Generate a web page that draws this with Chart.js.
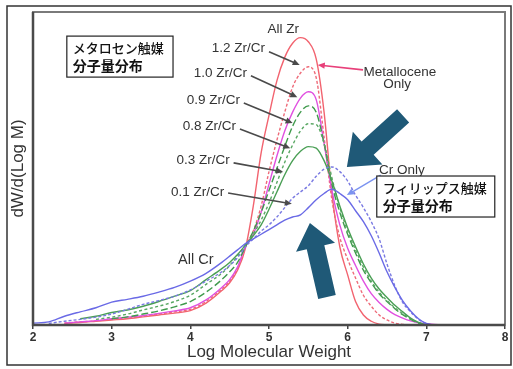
<!DOCTYPE html>
<html>
<head>
<meta charset="utf-8">
<script src="https://cdn.jsdelivr.net/npm/chart.js@4.4.1/dist/chart.umd.min.js"></script>
<style>
  html, body { margin: 0; padding: 0; background: #fff; }
</style>
</head>
<body>
<canvas id="chart" width="513" height="369"></canvas>
<script>
// shared x grid (log molecular weight)
const logM = [2.0, 2.2, 2.4, 2.6, 2.8, 3.0, 3.2, 3.4, 3.6, 3.8, 4.0, 4.2, 4.4, 4.5, 4.6, 4.7, 4.8, 4.9, 5.0, 5.1,
  5.2, 5.3, 5.4, 5.5, 5.6, 5.7, 5.8, 5.9, 6.0, 6.1, 6.2, 6.3, 6.4, 6.5, 6.6, 6.7, 6.8, 6.9, 7.0, 7.1, 7.2];

// dW/d(Log M) (relative units, no y ticks in original)
const allZr = [null, null, 0.005, 0.008, 0.012, 0.016, 0.02, 0.026, 0.032, 0.038, 0.046, 0.07, 0.11, 0.135, 0.175, 0.245, 0.38, 0.55, 0.67, 0.78,
  0.855, 0.9, 0.918, 0.905, 0.85, 0.68, 0.42, 0.25, 0.16, 0.075, 0.032, 0.012, 0.003, 0, null, null, null, null, null, null, null];
const zr12 = [null, null, 0.006, 0.01, 0.013, 0.018, 0.022, 0.028, 0.035, 0.042, 0.05, 0.075, 0.115, 0.14, 0.18, 0.25, 0.3, 0.38, 0.49, 0.59,
  0.68, 0.76, 0.805, 0.825, 0.79, 0.6, 0.4, 0.28, 0.21, 0.15, 0.095, 0.06, 0.032, 0.016, 0.006, 0.002, 0, null, null, null, null];
const zr10 = [null, null, 0.006, 0.01, 0.014, 0.02, 0.025, 0.03, 0.037, 0.045, 0.055, 0.08, 0.12, 0.145, 0.185, 0.25, 0.29, 0.36, 0.45, 0.54,
  0.62, 0.68, 0.725, 0.745, 0.72, 0.58, 0.43, 0.32, 0.245, 0.19, 0.14, 0.1, 0.072, 0.05, 0.033, 0.022, 0.013, 0.007, 0.004, 0.002, 0];
const zr09 = [null, null, null, null, null, 0.02, 0.026, 0.035, 0.045, 0.058, 0.075, 0.105, 0.145, 0.17, 0.2, 0.25, 0.3, 0.36, 0.43, 0.5,
  0.57, 0.635, 0.68, 0.7, 0.68, 0.58, 0.45, 0.36, 0.29, 0.23, 0.175, 0.135, 0.1, 0.075, 0.052, 0.033, 0.018, 0.006, 0, null, null];
const zr08 = [null, null, null, null, 0.018, 0.025, 0.035, 0.048, 0.06, 0.075, 0.095, 0.13, 0.165, 0.19, 0.22, 0.255, 0.29, 0.335, 0.39, 0.455,
  0.52, 0.575, 0.62, 0.643, 0.64, 0.58, 0.47, 0.375, 0.3, 0.24, 0.185, 0.14, 0.105, 0.078, 0.055, 0.036, 0.02, 0.008, 0, null, null];
const zr03 = [null, null, null, 0.02, 0.028, 0.04, 0.048, 0.06, 0.075, 0.092, 0.11, 0.145, 0.18, 0.2, 0.225, 0.255, 0.285, 0.32, 0.37, 0.425,
  0.48, 0.525, 0.555, 0.57, 0.565, 0.525, 0.46, 0.38, 0.31, 0.25, 0.195, 0.15, 0.115, 0.088, 0.063, 0.042, 0.022, 0.008, 0, null, null];
const zr01 = [null, 0.005, 0.012, 0.018, 0.025, 0.035, 0.05, 0.066, 0.078, 0.092, 0.112, 0.14, 0.17, 0.19, 0.215, 0.25, 0.275, 0.3, 0.32, 0.345,
  0.375, 0.405, 0.425, 0.445, 0.475, 0.498, 0.505, 0.49, 0.46, 0.415, 0.375, 0.33, 0.275, 0.195, 0.125, 0.072, 0.042, 0.018, 0.004, 0, null];
const allCr = [0.006, 0.01, 0.028, 0.042, 0.055, 0.073, 0.082, 0.092, 0.105, 0.12, 0.14, 0.165, 0.2, 0.22, 0.24, 0.26, 0.275, 0.29, 0.305, 0.32,
  0.335, 0.345, 0.352, 0.375, 0.4, 0.42, 0.434, 0.42, 0.4, 0.365, 0.33, 0.285, 0.23, 0.17, 0.12, 0.077, 0.045, 0.02, 0.005, 0, null];

const xTicks = [2, 3, 4, 5, 6, 7, 8];
const ratioLabels = ['1.2 Zr/Cr', '1.0 Zr/Cr', '0.9 Zr/Cr', '0.8 Zr/Cr', '0.3 Zr/Cr', '0.1 Zr/Cr'];

const LATIN = "'Liberation Sans', Arial, sans-serif";
const CJK = "'Noto Sans CJK JP', sans-serif";

const pts = arr => logM.map((x, i) => ({ x, y: arr[i] })).filter(p => p.y !== null);

const line = (data, color, dash) => ({
  data: pts(data),
  borderColor: color,
  borderWidth: 1.4,
  borderDash: dash || [],
  pointRadius: 0,
  fill: false,
  cubicInterpolationMode: 'monotone'
});

// arrow with small head, used for the ratio labels
function thinArrow(ctx, x1, y1, x2, y2, color, w) {
  const a = Math.atan2(y2 - y1, x2 - x1);
  ctx.strokeStyle = color;
  ctx.fillStyle = color;
  ctx.lineWidth = w;
  ctx.beginPath();
  ctx.moveTo(x1, y1);
  ctx.lineTo(x2 - 5 * Math.cos(a), y2 - 5 * Math.sin(a));
  ctx.stroke();
  ctx.beginPath();
  ctx.moveTo(x2, y2);
  ctx.lineTo(x2 - 7 * Math.cos(a) + 3.2 * Math.sin(a), y2 - 7 * Math.sin(a) - 3.2 * Math.cos(a));
  ctx.lineTo(x2 - 7 * Math.cos(a) - 3.2 * Math.sin(a), y2 - 7 * Math.sin(a) + 3.2 * Math.cos(a));
  ctx.closePath();
  ctx.fill();
}

// big block arrow
function blockArrow(ctx, tx, ty, hx, hy, shaft, head, headLen, color) {
  const len = Math.hypot(hx - tx, hy - ty);
  const ux = (hx - tx) / len, uy = (hy - ty) / len;
  const nx = -uy, ny = ux;
  const bx = hx - ux * headLen, by = hy - uy * headLen;
  ctx.fillStyle = color;
  ctx.beginPath();
  ctx.moveTo(tx + nx * shaft, ty + ny * shaft);
  ctx.lineTo(bx + nx * shaft, by + ny * shaft);
  ctx.lineTo(bx + nx * head, by + ny * head);
  ctx.lineTo(hx, hy);
  ctx.lineTo(bx - nx * head, by - ny * head);
  ctx.lineTo(bx - nx * shaft, by - ny * shaft);
  ctx.lineTo(tx - nx * shaft, ty - ny * shaft);
  ctx.closePath();
  ctx.fill();
}

const decorations = {
  id: 'decorations',
  afterDatasetsDraw(chart) {
    const { ctx, chartArea: ca } = chart;
    const X = v => chart.scales.x.getPixelForValue(v);
    const Y = v => chart.scales.y.getPixelForValue(v);
    ctx.save();

    // plot frame
    ctx.strokeStyle = '#7a7a7a';
    ctx.lineWidth = 2;
    ctx.strokeRect(ca.left, ca.top, ca.right - ca.left, ca.bottom - ca.top);
    ctx.strokeStyle = '#4a4a4a';
    ctx.lineWidth = 2.5;
    ctx.beginPath();
    ctx.moveTo(ca.left, ca.top);
    ctx.lineTo(ca.left, ca.bottom);
    ctx.lineTo(ca.right, ca.bottom);
    ctx.stroke();

    // ratio labels + arrows
    const labelPos = [[4.95, 0.885], [4.72, 0.805], [4.63, 0.719], [4.58, 0.636], [4.50, 0.527], [4.43, 0.425]];
    const arrowPos = [[5.0, 0.873, 5.39, 0.831], [4.77, 0.796, 5.36, 0.728], [4.68, 0.709, 5.30, 0.645],
      [4.63, 0.626, 5.27, 0.565], [4.55, 0.518, 5.18, 0.489], [4.48, 0.422, 5.29, 0.387]];
    ctx.font = '13.5px ' + LATIN;
    ctx.textAlign = 'right';
    ctx.textBaseline = 'middle';
    ratioLabels.forEach((t, i) => {
      ctx.fillStyle = '#333';
      ctx.fillText(t, X(labelPos[i][0]), Y(labelPos[i][1]));
      const a = arrowPos[i];
      thinArrow(ctx, X(a[0]), Y(a[1]), X(a[2]), Y(a[3]), '#4a4a4a', 1.6);
    });

    // other text
    ctx.textAlign = 'center';
    ctx.fillStyle = '#333';
    ctx.font = '13.5px ' + LATIN;
    ctx.fillText('All Zr', X(5.18), Y(0.946));
    ctx.fillText('Metallocene', X(6.665), Y(0.808));
    ctx.fillText('Only', X(6.63), Y(0.77));
    ctx.fillText('Cr Only', X(6.69), Y(0.495));
    ctx.font = '14.5px ' + LATIN;
    ctx.fillText('All Cr', X(4.07), Y(0.208));
    thinArrow(ctx, X(6.195), Y(0.815), X(5.62), Y(0.831), '#e8407a', 1.6);
    thinArrow(ctx, X(6.42), Y(0.479), X(5.99), Y(0.415), '#7b93f0', 1.4);

    // boxes with Japanese captions
    const box = (x1, y1, x2, y2, l1, l2) => {
      const px1 = X(x1), py1 = Y(y1), px2 = X(x2), py2 = Y(y2);
      ctx.fillStyle = '#fff';
      ctx.fillRect(px1, py1, px2 - px1, py2 - py1);
      ctx.strokeStyle = '#222';
      ctx.lineWidth = 1.2;
      ctx.strokeRect(px1, py1, px2 - px1, py2 - py1);
      ctx.fillStyle = '#111';
      ctx.textAlign = 'left';
      ctx.font = '500 13px ' + CJK;
      ctx.fillText(l1, px1 + 6, py1 + 12);
      ctx.font = '600 14px ' + CJK;
      ctx.fillText(l2, px1 + 6, py1 + 30);
    };
    box(2.43, 0.923, 3.78, 0.792, 'メタロセン触媒', '分子量分布');
    box(6.37, 0.476, 7.87, 0.345, 'フィリップス触媒', '分子量分布');

    // big arrows
    blockArrow(ctx, X(6.705), Y(0.668), X(5.99), Y(0.505), 9, 22, 28, '#1f5977');
    blockArrow(ctx, X(5.737), Y(0.0895), X(5.52), Y(0.326), 9, 20, 25, '#1f5977');

    // outer frame
    ctx.strokeStyle = '#333';
    ctx.lineWidth = 1.5;
    ctx.strokeRect(7, 6, 504, 359);
    ctx.restore();
  }
};

new Chart(document.getElementById('chart'), {
  type: 'line',
  data: {
    datasets: [
      line(allCr, '#6a6ae6'),
      line(zr01, '#7a7ae2', [3, 2]),
      line(zr03, '#4a9f55'),
      line(zr08, '#5aa864', [3, 2.5]),
      line(zr09, '#3f9a4c', [7, 3]),
      line(zr10, '#e050e0'),
      line(zr12, '#ee6a78', [3, 2]),
      line(allZr, '#f2636f')
    ]
  },
  options: {
    responsive: false,
    animation: false,
    layout: { padding: { top: 12, right: 8, left: 0, bottom: 0 } },
    plugins: { legend: { display: false }, tooltip: { enabled: false } },
    scales: {
      x: {
        type: 'linear', min: 2, max: 8,
        afterFit: s => { s.height = 44; },
        afterBuildTicks: s => { s.ticks = xTicks.map(v => ({ value: v })); },
        ticks: { color: '#333', font: { family: LATIN, size: 12, weight: 'bold' }, padding: 1, maxRotation: 0 },
        grid: { display: true, drawOnChartArea: false, drawTicks: true, tickLength: 4, color: '#444', lineWidth: 1.5 },
        border: { display: false },
        title: { display: true, text: 'Log Molecular Weight', color: '#333', font: { family: LATIN, size: 17 }, padding: { top: 0, bottom: 6 } }
      },
      y: {
        min: 0, max: 1,
        afterFit: s => { s.width = 33; },
        ticks: { display: false },
        grid: { display: false },
        border: { display: false },
        title: { display: true, text: 'dW/d(Log M)', color: '#333', font: { family: LATIN, size: 17 }, padding: { top: 8, bottom: 0 } }
      }
    }
  },
  plugins: [decorations]
});
</script>
</body>
</html>
